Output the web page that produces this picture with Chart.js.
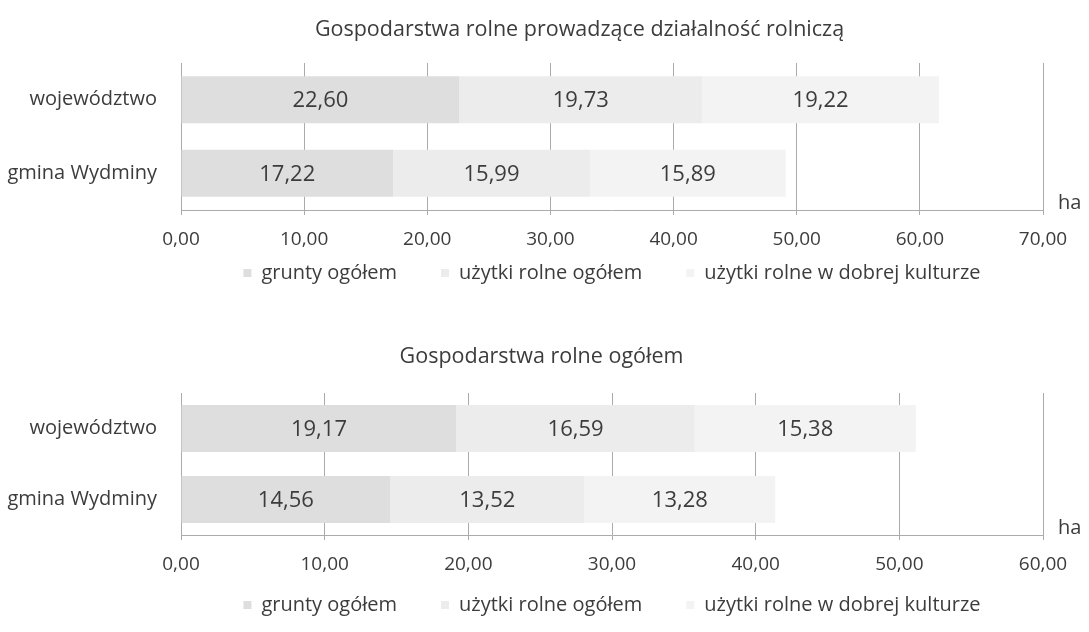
<!DOCTYPE html>
<html>
<head>
<meta charset="utf-8">
<script src="https://cdn.jsdelivr.net/npm/chart.js@4/dist/chart.umd.min.js"></script>
<style>
  html, body { margin: 0; padding: 0; background: #ffffff; }
  canvas { position: absolute; left: 0; }
</style>
</head>
<body>
<canvas id="c1" width="1089" height="293" style="top:0px"></canvas>
<canvas id="c2" width="1089" height="332" style="top:300px"></canvas>
<script>
// ---- data ----
const categories = ['województwo', 'gmina Wydminy'];
const seriesNames = ['grunty ogółem', 'użytki rolne ogółem', 'użytki rolne w dobrej kulturze'];
const seriesColors = ['#dedede', '#ececec', '#f3f3f3'];
const unitLabel = 'ha';

const chart1Title = 'Gospodarstwa rolne prowadzące działalność rolniczą';
const chart1Grunty = [22.60, 17.22];
const chart1Uzytki = [19.73, 15.99];
const chart1Dobre = [19.22, 15.89];
const chart1Max = 70;

const chart2Title = 'Gospodarstwa rolne ogółem';
const chart2Grunty = [19.17, 14.56];
const chart2Uzytki = [16.59, 13.52];
const chart2Dobre = [15.38, 13.28];
const chart2Max = 60;

const tickStep = 10;

// ---- helpers ----
const FONT = '"Open Sans", sans-serif';
const TEXT = '#3c3c3c';
const GRID = '#ababab';
const fmt = v => Number(v).toFixed(2).replace('.', ',');

const valueLabels = {
  id: 'valueLabels',
  afterDatasetsDraw(chart) {
    const ctx = chart.ctx;
    ctx.save();
    ctx.font = '22px ' + FONT;
    ctx.fillStyle = TEXT;
    ctx.textAlign = 'center';
    ctx.textBaseline = 'middle';
    chart.data.datasets.forEach((ds, i) => {
      const meta = chart.getDatasetMeta(i);
      meta.data.forEach((el, j) => {
        const p = el.getCenterPoint();
        ctx.fillText(fmt(ds.data[j]), p.x, p.y + 1);
      });
    });
    ctx.font = '20px ' + FONT;
    ctx.textAlign = 'left';
    ctx.fillText(unitLabel, chart.chartArea.right + 15, chart.chartArea.bottom - 7);
    ctx.restore();
  }
};

// moves the legend row and title after layout
const placeBoxes = {
  id: 'placeBoxes',
  afterLayout(chart, args, opts) {
    const lg = chart.legend;
    if (lg) {
      lg.top = opts.legendTop;
      lg.height = 80;
      lg.bottom = opts.legendTop + 80;
    }
    const t = chart.titleBlock;
    if (t) {
      t.left += opts.titleDx;
      t.right += opts.titleDx;
    }
  }
};

function makeChart(id, title, grunty, uzytki, dobre, max, o) {
  return new Chart(document.getElementById(id), {
    type: 'bar',
    data: {
      labels: categories,
      datasets: [
        { label: seriesNames[0], data: grunty, backgroundColor: seriesColors[0] },
        { label: seriesNames[1], data: uzytki, backgroundColor: seriesColors[1] },
        { label: seriesNames[2], data: dobre, backgroundColor: seriesColors[2] }
      ]
    },
    options: {
      indexAxis: 'y',
      responsive: false,
      animation: false,
      devicePixelRatio: 1,
      layout: { padding: { left: 0, right: 46, top: 0, bottom: o.padBottom } },
      datasets: { bar: { categoryPercentage: 1, barPercentage: o.barPct, borderWidth: 0 } },
      scales: {
        x: {
          stacked: true,
          min: 0, max: max,
          ticks: {
            stepSize: tickStep,
            color: TEXT,
            font: { family: FONT, size: 19 },
            padding: 13,
            maxRotation: 0,
            callback: v => fmt(v)
          },
          grid: { color: GRID, lineWidth: 1, tickLength: 5, drawTicks: true },
          border: { color: GRID, width: 1 },
          afterFit: s => { s.height = 45; }
        },
        y: {
          stacked: true,
          ticks: { color: TEXT, font: { family: FONT, size: 20 }, padding: 24 },
          grid: { display: false, drawTicks: false },
          border: { display: true, color: GRID, width: 1 },
          afterFit: s => { s.width = 181; }
        }
      },
      plugins: {
        title: {
          display: true,
          text: title,
          color: TEXT,
          font: { family: FONT, size: 21.5, weight: 'normal' },
          padding: { top: o.titleTop, bottom: o.titleBottom }
        },
        legend: {
          position: 'bottom',
          fullSize: false,
          maxHeight: 1,
          labels: {
            boxWidth: 8, boxHeight: 8,
            padding: 44,
            color: TEXT,
            font: { family: FONT, size: 20 }
          }
        },
        placeBoxes: { legendTop: o.legendTop, titleDx: o.titleDx },
        tooltip: { enabled: false }
      }
    },
    plugins: [valueLabels, placeBoxes]
  });
}

makeChart('c1', chart1Title, chart1Grunty, chart1Uzytki, chart1Dobre, chart1Max,
  { padBottom: 37, barPct: 0.64, titleTop: 17.1, titleBottom: 20.1, legendTop: 219, titleDx: 58 });
makeChart('c2', chart2Title, chart2Grunty, chart2Uzytki, chart2Dobre, chart2Max,
  { padBottom: 51, barPct: 0.66, titleTop: 44.1, titleBottom: 23.1, legendTop: 251, titleDx: 20 });
</script>
</body>
</html>
